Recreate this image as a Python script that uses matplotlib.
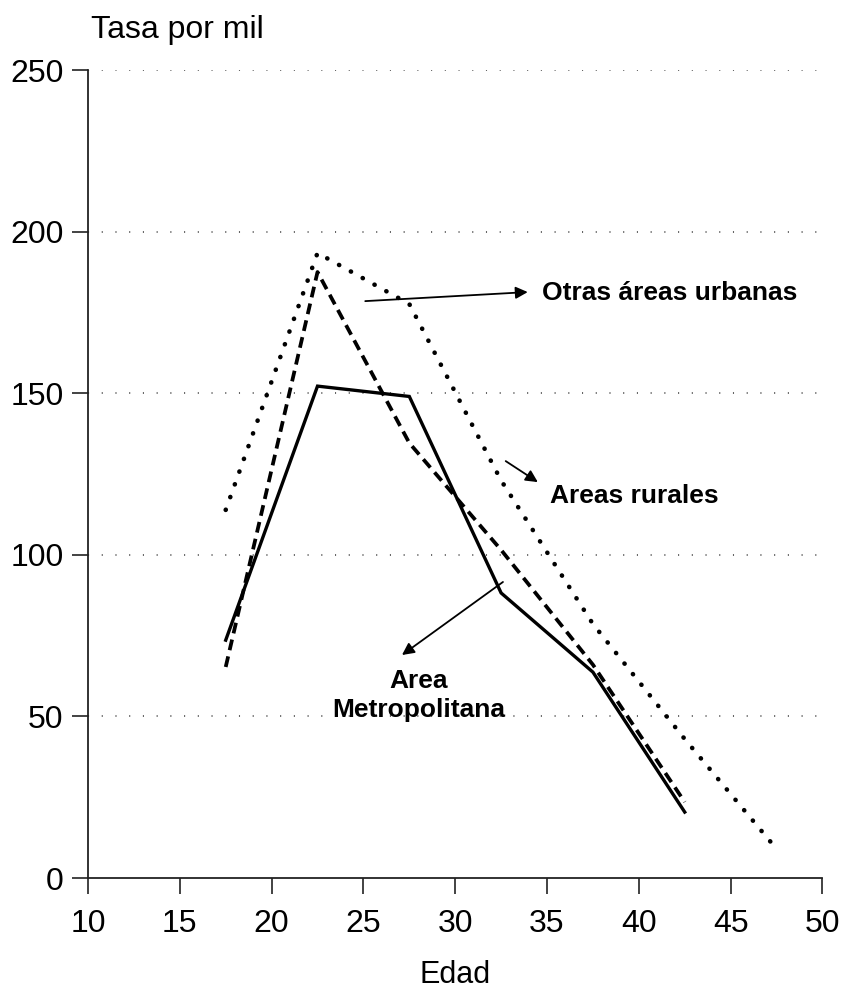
import matplotlib
matplotlib.use("Agg")
import matplotlib.pyplot as plt

# grupos de edad (punto medio)
edad = [17.5, 22.5, 27.5, 32.5, 37.5, 42.5]
edad_urb = [17.5, 22.5, 27.5, 32.5, 37.5, 42.5, 47.5]

metropolitana = [73.6, 152.2, 149.0, 88.2, 63.7, 20.4]
rurales = [65.3, 187.5, 134.6, 101.5, 66.0, 23.5]
urbanas = [113.9, 193.4, 177.6, 123.0, 78.6, 43.0, 9.0]

xticks = [10, 15, 20, 25, 30, 35, 40, 45, 50]
yticks = [0, 50, 100, 150, 200, 250]

plt.rcParams['font.family'] = ['Liberation Sans', 'DejaVu Sans']

fig = plt.figure(figsize=(8.47, 9.92), dpi=100)
ax = fig.add_axes([0.1039, 0.1149, 0.8671, 0.8145])

ax.plot(edad, metropolitana, color='black', lw=2.4, solid_joinstyle='miter')
ax.plot(edad, rurales, color='black', lw=2.7, linestyle=(0, (2.9, 1.7)))
ax.plot(edad_urb, urbanas, color='black', lw=3.3, linestyle=(0, (0.05, 2.9)),
        dash_capstyle='round')

ax.set_xlim(10, 50)
ax.set_ylim(0, 250)
ax.set_xticks(xticks)
ax.set_yticks(yticks)
ax.tick_params(axis='both', labelsize=23, length=11.5, width=1.2, direction='out', color='#222222')
ax.tick_params(axis='x', pad=11)
ax.tick_params(axis='y', pad=6)

for s in ['top', 'right']:
    ax.spines[s].set_visible(False)
for s in ['left', 'bottom']:
    ax.spines[s].set_linewidth(1.3)
    ax.spines[s].set_color('#222222')

for v in yticks[1:]:
    ax.axhline(v, color='#555555', lw=1.3, linestyle=(0, (0.6, 7)), zorder=0)

ax.set_xlabel('Edad', fontsize=22, va='center')
ax.xaxis.set_label_coords(0.5, -0.12)
fig.text(0.107, 0.970, 'Tasa por mil', fontsize=23, ha='left', va='center')

arrow = dict(arrowstyle='-|>', lw=1.3, color='black', mutation_scale=18,
             shrinkA=0, shrinkB=0)
ax.annotate('', xy=(33.95, 181.3), xytext=(25.1, 178.5), arrowprops=arrow)
ax.text(34.75, 181.0, 'Otras áreas urbanas', fontsize=19, fontweight='bold',
        ha='left', va='center')

ax.annotate('', xy=(34.5, 122.5), xytext=(32.75, 129.0), arrowprops=arrow)
ax.text(35.15, 118.3, 'Areas rurales', fontsize=19, fontweight='bold',
        ha='left', va='center')

ax.annotate('', xy=(27.1, 69.0), xytext=(32.6, 91.6), arrowprops=arrow)
ax.text(28.0, 56.5, 'Area\nMetropolitana', fontsize=19, fontweight='bold',
        ha='center', va='center', linespacing=1.3)

fig.savefig('out.png', dpi=100)
